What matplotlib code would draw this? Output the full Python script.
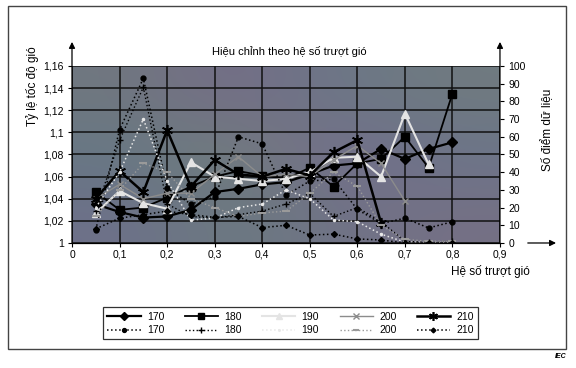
import numpy as np
import matplotlib
matplotlib.use("Agg")
import matplotlib.pyplot as plt
from matplotlib.patches import Rectangle
from matplotlib.ticker import FuncFormatter

plt.rcParams['font.family'] = ['Liberation Sans', 'DejaVu Sans']

# wind shear values on the x axis
shear = [0.05, 0.1, 0.15, 0.2, 0.25, 0.3, 0.35, 0.4, 0.45, 0.5, 0.55, 0.6, 0.65, 0.7, 0.75, 0.8]

# wind speed ratio (left axis, solid lines)
ratio_170 = [1.035, 1.028, 1.023, 1.024, 1.030, 1.046, 1.049, 1.053, 1.055, 1.062, 1.070, 1.072, 1.085, 1.076, 1.085, 1.091]
ratio_180 = [1.046, 1.030, 1.032, 1.041, 1.051, 1.060, 1.065, 1.061, 1.058, 1.068, 1.051, 1.072, 1.076, 1.096, 1.068, 1.135]
ratio_190 = [1.027, 1.047, 1.036, 1.031, 1.073, 1.060, 1.058, 1.056, 1.058, 1.064, 1.077, 1.078, 1.060, 1.117, 1.071]
ratio_200 = [1.040, 1.053, 1.040, 1.045, 1.045, 1.062, 1.078, 1.060, 1.062, 1.060, 1.075, 1.088, 1.072, 1.038]
ratio_210 = [1.040, 1.065, 1.046, 1.102, 1.051, 1.075, 1.062, 1.060, 1.067, 1.061, 1.082, 1.093, 1.018]

# number of data points (right axis, dotted lines)
count_170 = [7.5, 64, 93, 31, 22, 26, 60, 56, 27, 35, 36, 19, 11, 14, 8.5, 12]
count_180 = [18, 58, 88, 22, 15, 14, 16, 18, 22, 28, 15, 20, 12, 1, 0.5, 1]
count_190 = [20, 40, 70, 35, 13, 14, 20, 22, 30, 25, 13, 12, 5, 0.5, 0.3, 0.3]
count_200 = [15, 30, 45, 40, 25, 20, 15, 17, 18, 28, 40, 32, 10, 2, 1, 1]
count_210 = [8, 14, 16, 18, 16, 14.5, 15, 8.7, 10, 4.5, 5, 2.3, 1.7, 0, 0, 0]

fig = plt.figure(figsize=(5.76, 3.68), dpi=100)
ax = fig.add_axes([0.125, 0.3397, 0.743, 0.481])
ax2 = ax.twinx()

# scanned-looking background
bg = np.array([
    [[0.44, 0.47, 0.50], [0.46, 0.42, 0.53], [0.42, 0.47, 0.53], [0.44, 0.48, 0.50]],
    [[0.40, 0.47, 0.52], [0.45, 0.50, 0.48], [0.46, 0.42, 0.55], [0.42, 0.46, 0.54]],
    [[0.43, 0.44, 0.54], [0.42, 0.48, 0.50], [0.44, 0.45, 0.53], [0.46, 0.44, 0.52]],
])
ax.imshow(bg, extent=(0, 0.9, 1.0, 1.16), aspect='auto', interpolation='bicubic', zorder=0)

ax.set_xlim(0, 0.9)
ax.set_ylim(1.0, 1.16)
ax2.set_ylim(0, 100)

ax.set_xticks(np.arange(0, 0.91, 0.1))
ax.set_yticks(np.arange(1.0, 1.161, 0.02))
ax2.set_yticks(np.arange(0, 101, 10))

comma = lambda v, p: ('%g' % round(v, 2)).replace('.', ',')
ax.xaxis.set_major_formatter(FuncFormatter(comma))
ax.yaxis.set_major_formatter(FuncFormatter(comma))

ax.grid(True, color='#111111', linewidth=1.1, zorder=1)
ax.set_axisbelow('line')

for a in (ax, ax2):
    for s in a.spines.values():
        s.set_visible(False)
ax.tick_params(axis='both', labelsize=7.5, length=3, color='black', pad=3)
ax.tick_params(axis='x', pad=2)
ax2.tick_params(axis='y', labelsize=7.5, length=3, pad=3)

# solid lines: speed ratio
ax.plot(shear[:len(ratio_170)], ratio_170, color='black', lw=1.6, marker='D', ms=5, label='170', zorder=5)
ax.plot(shear[:len(ratio_180)], ratio_180, color='black', lw=1.3, marker='s', ms=5.5, label='180', zorder=5)
ax.plot(shear[:len(ratio_190)], ratio_190, color='#e4e4e4', lw=1.5, marker='^', ms=6, label='190', zorder=5)
ax.plot(shear[:len(ratio_200)], ratio_200, color='#8c8c8c', lw=1.0, marker='x', ms=5, label='200', zorder=5)
ax.plot(shear[:len(ratio_210)], ratio_210, color='black', lw=1.8, marker=(6, 2, 0), ms=8, mew=1.2, label='210', zorder=5)

# dotted lines: data counts
ax2.plot(shear, count_170, color='black', lw=1.1, ls=':', marker='o', ms=3.5, label='170')
ax2.plot(shear, count_180, color='black', lw=1.0, ls=':', marker='+', ms=5, label='180')
ax2.plot(shear, count_190, color='#e8e8e8', lw=1.1, ls=':', marker='.', ms=3, label='190')
ax2.plot(shear, count_200, color='#9a9a9a', lw=1.0, ls=':', marker='_', ms=6, mew=1.5, label='200')
ax2.plot(shear, count_210, color='black', lw=1.1, ls=':', marker='D', ms=3, label='210')

# axis lines with arrows
arrow = dict(arrowstyle='-|>', color='black', lw=0.9, mutation_scale=9, shrinkA=0, shrinkB=0)
ax.annotate('', xy=(0, 1.136), xytext=(0, 0), xycoords='axes fraction', arrowprops=arrow, annotation_clip=False)
ax.annotate('', xy=(1, 1.136), xytext=(1, 0), xycoords='axes fraction', arrowprops=arrow, annotation_clip=False)
ax.plot([0, 1.0], [0, 0], transform=ax.transAxes, color='black', lw=0.9, clip_on=False, zorder=6)
ax.annotate('', xy=(1.131, 0), xytext=(1.065, 0), xycoords='axes fraction', arrowprops=arrow, annotation_clip=False)

fig.text(0.503, 0.859, 'Hiệu chỉnh theo hệ số trượt gió', ha='center', va='center', fontsize=8)
fig.text(0.056, 0.765, 'Tỷ lệ tốc độ gió', rotation=90, ha='center', va='center', fontsize=8.5)
fig.text(0.951, 0.647, 'Số điểm dữ liệu', rotation=90, ha='center', va='center', fontsize=8.5)
fig.text(0.851, 0.263, 'Hệ số trượt gió', ha='center', va='center', fontsize=8.5)
fig.text(0.983, 0.030, 'IEC', ha='right', va='center', fontsize=5, style='italic', weight='bold')

# legend: solid row on top, dotted row below
h1, l1 = ax.get_legend_handles_labels()
h2, l2 = ax2.get_legend_handles_labels()
handles, labels = [], []
for i in range(5):
    handles += [h1[i], h2[i]]
    labels += [l1[i], l2[i]]
leg = fig.legend(handles, labels, ncol=5, loc='center', bbox_to_anchor=(0.179, 0.065, 0.651, 0.112),
                 mode='expand', fontsize=7.5, frameon=True, fancybox=False, handlelength=3.2,
                 columnspacing=1.2, handletextpad=0.6, borderaxespad=0, labelspacing=0.35,
                 markerscale=0.8)
leg.get_frame().set_edgecolor('black')
leg.get_frame().set_linewidth(0.9)

fig.patches.append(Rectangle((0.0139, 0.0516), 0.9687, 0.9321, transform=fig.transFigure,
                             fill=False, edgecolor='#444444', linewidth=1.0))

fig.savefig('out.png', dpi=100)
